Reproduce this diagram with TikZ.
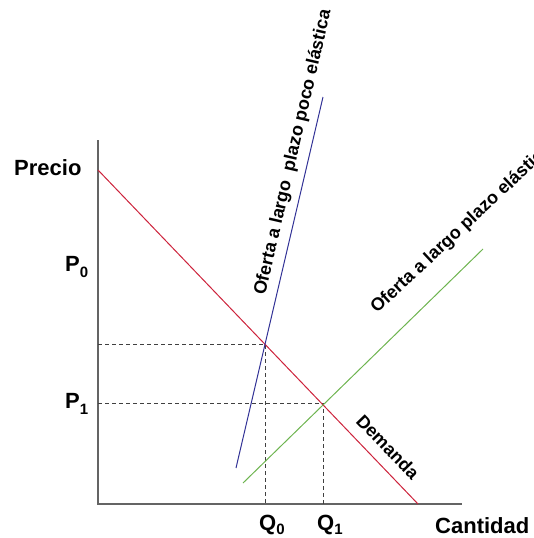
\documentclass[tikz,border=0pt]{standalone}
\usepackage{fontspec}
\setmainfont{Liberation Sans}
\definecolor{demred}{RGB}{205,35,60}
\definecolor{supblue}{RGB}{50,50,150}
\definecolor{supgreen}{RGB}{110,180,80}
\definecolor{axgray}{RGB}{100,100,100}
\begin{document}
\begin{tikzpicture}[x=1pt,y=-1pt,
  axisline/.style={draw=axgray,line width=1.6pt},
  guide/.style={draw=black!75,line width=0.9pt,dash pattern=on 4pt off 3pt},
  curve/.style={line width=1pt},
  biglabel/.style={font=\fontsize{22}{24}\selectfont\bfseries,inner sep=0pt},
  curvelabel/.style={font=\fontsize{18}{20}\selectfont\bfseries,inner sep=0pt}]
\useasboundingbox (0,0) rectangle (534,538);
% axes
\coordinate (top) at (98,140);
\coordinate (orig) at (98,504);
\coordinate (xend) at (462,504);
\draw[axisline] (top) -- (orig) -- (xend);
% curves
\coordinate (d1) at (98,170);
\coordinate (d2) at (418,504);
\coordinate (b1) at (236,468);
\coordinate (b2) at (323,97);
\coordinate (g1) at (243,483);
\coordinate (g2) at (483,249);
\coordinate (e0) at (265,344);
\coordinate (e1) at (323,403);
\coordinate (p0y) at (98,344);
\coordinate (p1y) at (98,403);
\coordinate (q0x) at (265,504);
\coordinate (q1x) at (323,504);
\draw[guide] (p0y) -- (e0) -- (q0x);
\draw[guide] (p1y) -- (e1) -- (q1x);
\draw[curve,draw=demred] (d1) -- (d2);
\draw[curve,draw=supblue] (b1) -- (b2);
\draw[curve,draw=supgreen] (g1) -- (g2);
% labels
\node[biglabel,anchor=base west] (precio) at (14,175) {Precio};
\node[biglabel,anchor=base west] (p0) at (65,271) {P\raisebox{-6pt}{\fontsize{15}{16}\selectfont 0}};
\node[biglabel,anchor=base west] (p1) at (65,408) {P\raisebox{-6pt}{\fontsize{15}{16}\selectfont 1}};
\node[biglabel,anchor=base west] (q0) at (259,530) {Q\raisebox{-4pt}{\fontsize{15}{16}\selectfont 0}};
\node[biglabel,anchor=base west] (q1) at (317,530) {Q\raisebox{-4pt}{\fontsize{15}{16}\selectfont 1}};
\node[biglabel,anchor=base west] (cant) at (435,533) {Cantidad};
\node[curvelabel,anchor=base west,rotate=77] (lblue) at (265,296) {Oferta a largo\ \ plazo poco elástica};
\node[curvelabel,anchor=base west,rotate=43] (lgreen) at (377,314) {Oferta a largo plazo elástica};
\node[curvelabel,rotate=-46] (ldem) at (388,447) {Demanda};
\end{tikzpicture}
\end{document}
